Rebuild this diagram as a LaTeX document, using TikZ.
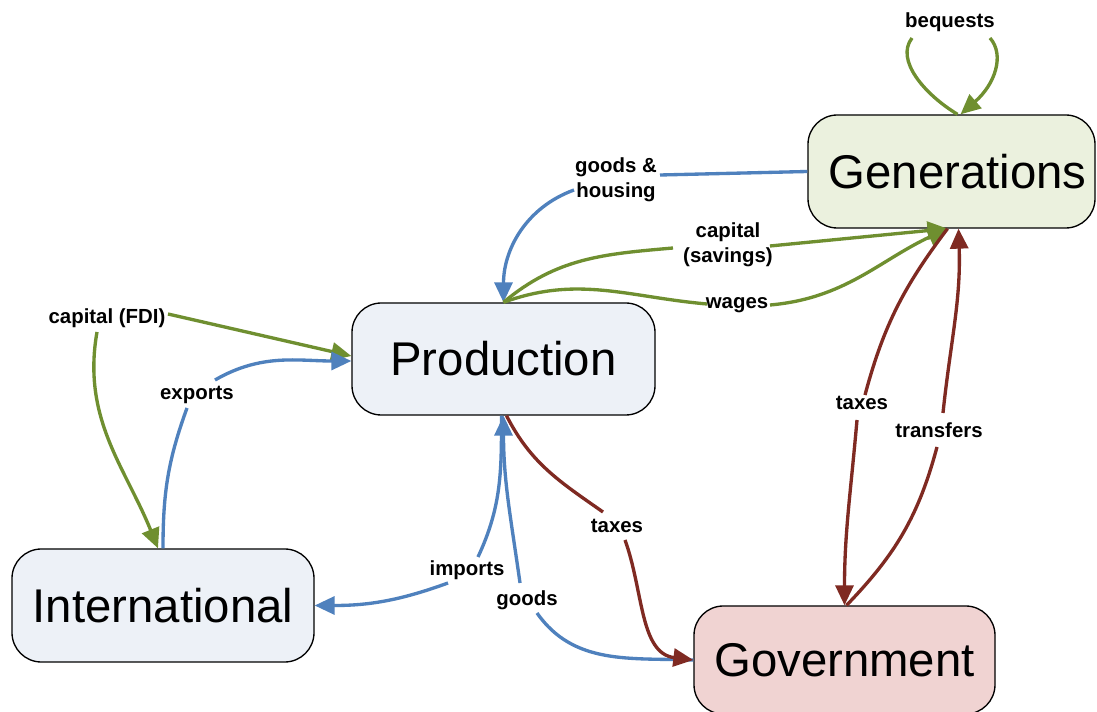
\documentclass[tikz,border=0pt]{standalone}
\usepackage{fontspec}
\setmainfont{Liberation Sans}
\usetikzlibrary{arrows.meta,calc}
\definecolor{cblue}{HTML}{4F81BD}
\definecolor{cgreen}{HTML}{6F8F30}
\definecolor{cred}{HTML}{7F2A22}
\definecolor{fgen}{HTML}{EBF1DE}
\definecolor{fprod}{HTML}{EDF1F7}
\definecolor{fgov}{HTML}{F0D3D2}
\begin{document}
\begin{tikzpicture}[x=0.75pt,y=0.75pt,
  box/.style={draw=black, line width=1pt, rounded corners=22pt, inner sep=0pt,
    font=\fontsize{35.5}{40}\selectfont},
  lbl/.style={inner sep=0pt, font=\bfseries\fontsize{15.3}{18.75}\selectfont, align=center},
  flow/.style={line width=2.5pt},
  arr/.style={-{Triangle[length=15pt,width=13.5pt]}}]
\fill[white] (0,0) rectangle (1097,-712);
\useasboundingbox (0,0) rectangle (1097,-712);

% main boxes
\node[box, fill=fprod, minimum width=227.25pt, minimum height=84pt] (prod) at (503.5,-359) {Production};
\node[box, fill=fprod, minimum width=226.5pt, minimum height=84.75pt] (intl) at (163,-605.5) {International};
\node[box, fill=fgen, minimum width=215.25pt, minimum height=84.75pt] (gen) at (951.5,-171.5) {\hspace*{9pt}Generations};
\node[box, fill=fgov, minimum width=225.75pt, minimum height=81pt] (gov) at (844.5,-660) {Government};

% labels
\node[lbl] (beq) at (950,-22) {bequests};
\node[lbl] (gh) at (616,-180) {goods \&\\housing};
\node[lbl] (cs) at (728,-245) {capital\\(savings)};
\node[lbl] (wag) at (737,-305) {wages};
\node[lbl] (fdi) at (107,-318) {capital (FDI)};
\node[lbl] (exp) at (197,-395) {exports};
\node[lbl] (imp) at (467,-570) {imports};
\node[lbl] (gds) at (527,-600) {goods};
\node[lbl] (tx1) at (617,-526) {taxes};
\node[lbl] (tx2) at (862,-403) {taxes};
\node[lbl] (trf) at (939,-430) {transfers};

% bequests loop
\draw[flow,cgreen] ($(gen.north)+(6,0)$) .. controls ($(gen.north)+(-27,20)$) and ($(beq.center)+(-55,-38)$) .. ($(beq.center)+(-38,-16)$);
\draw[flow,cgreen,arr] ($(beq.center)+(40,-16)$) .. controls ($(beq.center)+(55,-33)$) and ($(gen.north)+(43.5,30)$) .. ($(gen.north)+(9,0)$);

% goods & housing
\draw[flow,cblue] (gen.west) -- ($(gh.center)+(44,5)$);
\draw[flow,cblue,arr] ($(gh.center)+(-42,-10)$) to[out=200,in=90] (prod.north);

% capital (savings)
\draw[flow,cgreen] (prod.north) to[out=40,in=185] ($(cs.center)+(-55,-3)$);
\draw[flow,cgreen,arr] ($(cs.center)+(42,-1)$) -- ($(gen.south)+(-4,0)$);

% wages
\draw[flow,cgreen] (prod.north) to[out=20,in=175] ($(wag.center)+(-30,1)$);
\draw[flow,cgreen,arr] ($(wag.center)+(33,0)$) to[out=5,in=205] ($(gen.south)+(-4,0)$);

% capital (FDI)
\draw[flow,cgreen,arr] ($(fdi.center)+(61,4)$) -- ($(prod.west)+(0,3)$);
\draw[flow,cgreen,arr] ($(fdi.center)+(-10,-14)$) to[out=-100,in=112] ($(intl.north)+(-5,0)$);

% exports
\draw[flow,cblue] (intl.north) to[out=90,in=-110] ($(exp.center)+(-10,-13)$);
\draw[flow,cblue,arr] ($(exp.center)+(18,15)$) to[out=30,in=180] ($(prod.west)+(0,-2)$);

% imports
\draw[flow,cblue] ($(prod.south)+(-2,0)$) to[out=-90,in=65] ($(imp.center)+(11,13)$);
\draw[flow,cblue,arr] ($(imp.center)+(-19,-13)$) to[out=200,in=0] (intl.east);

% goods
\draw[flow,cblue,arr] ($(gds.center)+(-7,17)$) to[out=98,in=-90] (prod.south);
\draw[flow,cblue] ($(gds.center)+(10,-13)$) to[out=-55,in=178] (gov.west);

% taxes (production -> government)
\draw[flow,cred] ($(prod.south)+(3,0)$) to[out=-63,in=145] ($(tx1.center)+(-14,14)$);
\draw[flow,cred,arr] ($(tx1.center)+(8,-14)$) to[out=-70,in=173] (gov.west);

% taxes (generations -> government)
\draw[flow,cred] ($(gen.south)+(-4,0)$) to[out=233,in=75] ($(tx2.center)+(3,8)$);
\draw[flow,cred,arr] ($(tx2.center)+(-5,-17)$) to[out=-95,in=90] (gov.north);

% transfers
\draw[flow,cred] ($(gov.north)+(2,0)$) to[out=46,in=-105] ($(trf.center)+(-2,-17)$);
\draw[flow,cred,arr] ($(trf.center)+(4,17)$) to[out=84,in=-88] ($(gen.south)+(7,0)$);
\end{tikzpicture}
\end{document}
